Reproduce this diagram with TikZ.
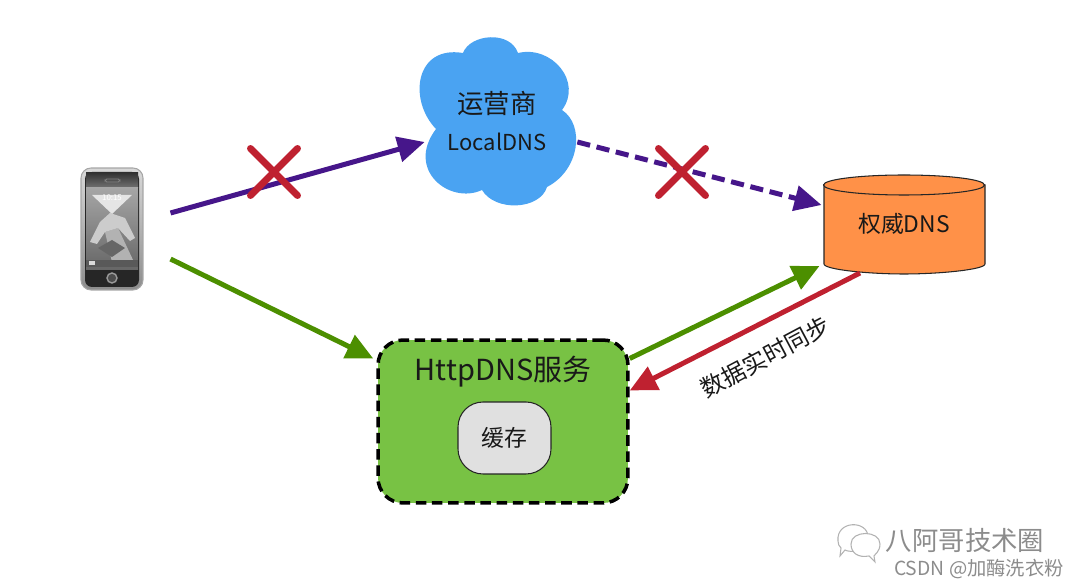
\documentclass[tikz,border=0pt]{standalone}
\usepackage{fontspec}
\setmainfont{Noto Sans CJK SC}
\usetikzlibrary{shapes.misc, arrows.meta, positioning, calc}
\definecolor{cloudblue}{HTML}{4AA3F2}
\definecolor{authorange}{HTML}{FF9148}
\definecolor{boxgreen}{HTML}{78C244}
\definecolor{arrpurple}{HTML}{46168A}
\definecolor{arrgreen}{HTML}{4C8F00}
\definecolor{arrred}{HTML}{BF2130}

\begin{document}
\begin{tikzpicture}[
    x=0.02cm, y=-0.02cm,
    every node/.style={font=\fontsize{15}{21.5}\selectfont, text=black!90},
    cloudtxt/.style={minimum width=3cm, minimum height=3.32cm, align=center, inner sep=0pt},
    authdb/.style={minimum width=3.22cm, minimum height=1.96cm, inner sep=0pt, outer sep=0pt, font=\fontsize{13}{15}\selectfont},
    authline/.style={draw=black!85, fill=authorange, line width=0.6pt},
    svcbox/.style={rectangle, draw=black, fill=boxgreen, dashed, dash pattern=on 6pt off 3.2pt, line width=2pt, rounded corners=0.5cm, minimum width=5cm, minimum height=3.26cm},
    cachebox/.style={rectangle, draw=black!85, fill=black!12, line width=0.6pt, rounded corners=0.5cm, minimum width=1.86cm, minimum height=1.44cm, inner sep=0pt},
    crossmark/.style={cross out, draw=arrred, line width=0.14cm, line cap=round, minimum size=0.94cm, inner sep=0pt, outer sep=0pt},
    arr/.style={-{Triangle[length=0.54cm,width=0.5cm]}, line width=0.1cm},
    wmark/.style={text=black!45},
    phonebody/.style={rectangle, rounded corners=0.2cm, draw=black!35, line width=0.6pt, top color=black!15, bottom color=black!45, minimum width=1.24cm, minimum height=2.44cm, inner sep=0pt}
]
\useasboundingbox (0,0) rectangle (1080,587);

% ===== Telefono =====
\node[phonebody] (phone) at (112,229) {};
\fill[black!85, rounded corners=0.14cm] (85,172) rectangle (139,287);
\shade[top color=black!80, bottom color=black!55] (86,173) rectangle (138,188);
\shade[top color=black!35, bottom color=black!60] (86,188) rectangle (138,270);
\fill[black!10] (92,195) -- (132,195) -- (112,214) -- cycle;
\fill[black!30] (105,232) -- (118,228) -- (134,262) -- (112,262) -- cycle;
\fill[black!20] (90,242) -- (100,222) -- (110,213) -- (125,218) -- (135,238) -- (130,241) -- (118,228) -- (105,232) -- (97,244) -- cycle;
\fill[black!60] (98,248) -- (112,240) -- (125,248) -- (112,257) -- cycle;
\fill[black!65] (86,260) rectangle (138,267);
\fill[black!15] (89,261) rectangle (95,265);
\node[font=\fontsize{4.5}{5}\selectfont, text=white] (clock) at (112,198) {10:15};
\draw[black!50, line width=0.5pt, rounded corners=1pt] (105,179) rectangle (120,182);
\draw[black!40, fill=black!70, line width=0.8pt] (112,278) circle (5);

% ===== Nube =====
\fill[cloudblue] (463,53) .. controls (470,34) and (510,30) .. (518,53)
  .. controls (552,45) and (583,82) .. (562,110)
  .. controls (585,125) and (580,170) .. (547,187)
  .. controls (540,210) and (495,212) .. (482,190)
  .. controls (450,205) and (405,170) .. (436,129)
  .. controls (408,100) and (415,45) .. (463,53) -- cycle;
\node[cloudtxt] (cloud) at (497,121) {运营商\\\fontsize{12.5}{15}\selectfont LocalDNS};

% ===== Servidor autoritativo =====
\draw[authline] (824,185) -- (824,264) .. controls (824,269.5) and (868,274) .. (904,274)
  .. controls (940,274) and (985,269.5) .. (985,264) -- (985,185) -- cycle;
\draw[authline] (904,185) ellipse [x radius=80.5, y radius=10];
\node[authdb] (auth) at (904,224) {权威DNS};

% ===== Servicio HttpDNS =====
\node[svcbox] (svc) at (503,421.5) {};
\node[font=\fontsize{16.5}{20}\selectfont] (svctxt) at (503,372) {HttpDNS服务};
\node[cachebox] (cache) at (504.5,438) {\fontsize{13}{15}\selectfont 缓存};

% ===== Conexiones =====
\draw[arr, arrpurple] ($(phone.east)+(27,-16)$) -- ($(cloud.west)+(3,21)$);
\draw[arr, arrpurple, dashed, dash pattern=on 7.5pt off 3.8pt] ($(cloud.east)+(5,21)$) -- ($(auth.west)+(-2,-19)$);
\draw[arr, arrgreen] ($(phone.east)+(27,30)$) -- ($(svc.west)+(-3,-63)$);
\draw[arr, arrgreen] ($(svc.east)+(0,-63)$) -- ($(auth.west)+(-4,42)$);
\draw[arr, arrred] ($(auth.south)+(-44,0)$) -- ($(svc.east)+(0,-31)$);
\node[rotate=28, inner sep=0pt, font=\fontsize{13.5}{15}\selectfont] (synctxt) at (765,357) {数据实时同步};

% ===== Marcas de bloqueo =====
\node[crossmark] (block1) at (274,172) {};
\node[crossmark] (block2) at (682,172) {};

% ===== Marca de agua =====
\draw[black!30, line width=0.6pt, fill=white] (838,541) .. controls (836,520) and (868,520) .. (868,537) .. controls (868,552) and (850,553) .. (845,550) -- (840,556) -- (841,548) .. controls (839,546) and (838,544) .. (838,541) -- cycle;
\draw[black!30, line width=0.6pt, fill=white] (851,544) .. controls (851,530) and (880,530) .. (880,544) .. controls (880,552) and (874,555) .. (874,556) -- (875,562) -- (869,556) .. controls (858,558) and (851,553) .. (851,544) -- cycle;
\node[wmark, font=\fontsize{15}{17}\selectfont] (wm1) at (965,541) {八阿哥技术圈};
\node[wmark, font=\fontsize{11}{13}\selectfont] (wm2) at (979,569) {CSDN @加酶洗衣粉};
\end{tikzpicture}
\end{document}
